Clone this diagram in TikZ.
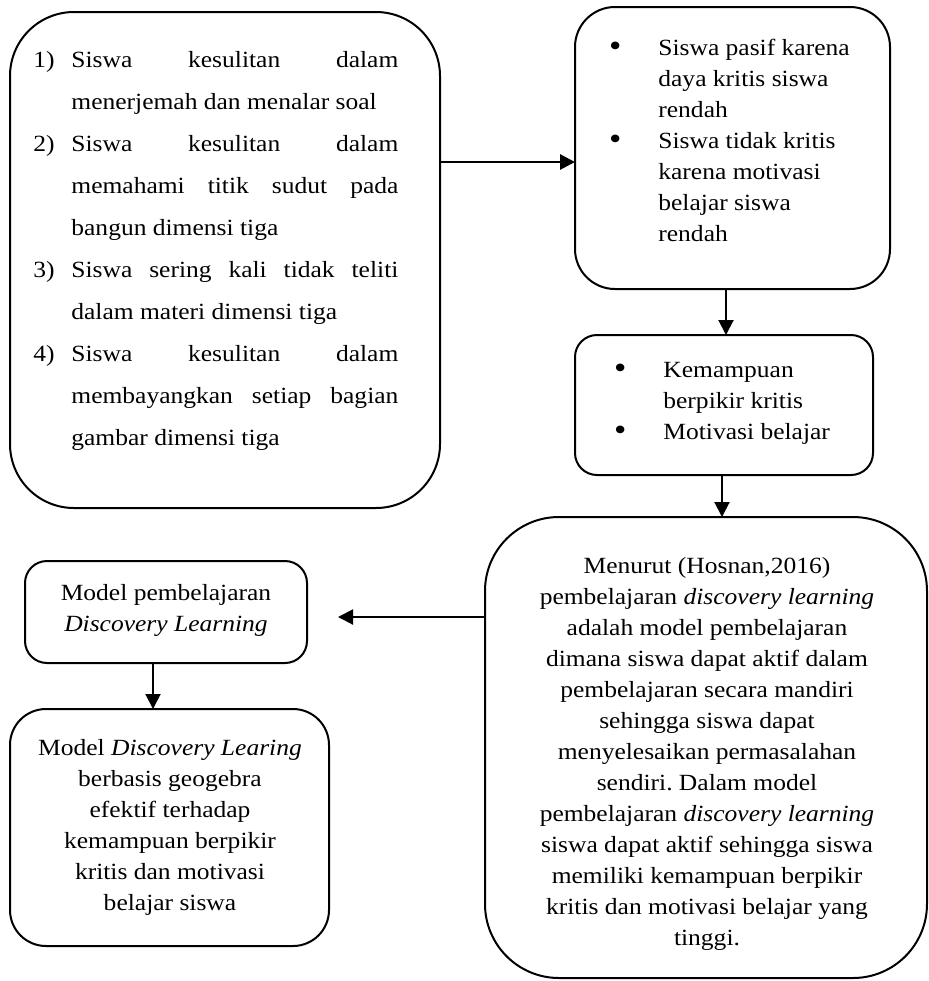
\documentclass[tikz,border=0pt]{standalone}
\usepackage{fontspec}
\setmainfont{Liberation Serif}[FakeStretch=1.1]
\usetikzlibrary{arrows.meta}
\frenchspacing
\newcommand\jline[1]{\hbox to 163.5pt{#1}}
\newcommand\numb[1]{\makebox[19pt][l]{#1}}
\newcommand\bul{\makebox[27pt][l]{\makebox[11pt]{\raisebox{-0.6pt}{\fontsize{16}{16}\selectfont •}}}}
\newcommand\nob{\hspace*{27pt}}
\begin{document}
\begin{tikzpicture}[x=0.5pt,y=-0.5pt,
  box/.style={draw, line width=1pt, inner sep=0pt, outer sep=0pt},
  arr/.style={line width=1pt, -{Triangle[length=7.5pt,width=7.5pt]}},
  txt/.style={inner sep=0pt, anchor=base, font=\fontsize{11.6}{15.5}\selectfont}
]
\useasboundingbox (0,0) rectangle (929,981);
% boxes
\node[box, rounded corners=32pt, minimum width=215pt, minimum height=248pt] (b1) at (225,260) {};
\node[box, rounded corners=20pt, minimum width=157.5pt, minimum height=141pt] (b2) at (732.5,148) {};
\node[box, rounded corners=11pt, minimum width=149pt, minimum height=70pt] (b3) at (724,405) {};
\node[box, rounded corners=37pt, minimum width=221pt, minimum height=230.5pt] (b4) at (706,747.5) {};
\node[box, rounded corners=11pt, minimum width=141pt, minimum height=51pt] (b5) at (166,612) {};
\node[box, rounded corners=18pt, minimum width=159.5pt, minimum height=118.5pt] (b6) at (169.5,827.5) {};
% texts
\node[txt, anchor=base west, font=\fontsize{11.6}{21}\selectfont] (t1) at (33,67) {%
\begin{tabular}[t]{@{}l@{}l@{}}
\numb{1)} & \jline{Siswa\hfill kesulitan\hfill dalam}\\
 & menerjemah dan menalar soal\\
\numb{2)} & \jline{Siswa\hfill kesulitan\hfill dalam}\\
 & \jline{memahami\hfill titik\hfill sudut\hfill pada}\\
 & bangun dimensi tiga\\
\numb{3)} & \jline{Siswa\hfill sering\hfill kali\hfill tidak\hfill teliti}\\
 & dalam materi dimensi tiga\\
\numb{4)} & \jline{Siswa\hfill kesulitan\hfill dalam}\\
 & \jline{membayangkan\hfill setiap\hfill bagian}\\
 & gambar dimensi tiga
\end{tabular}};
\node[txt, anchor=base west] (t2) at (604,55) {%
\begin{tabular}[t]{@{}l@{}}
\bul Siswa pasif karena\\
\nob daya kritis siswa\\
\nob rendah\\
\bul Siswa tidak kritis\\
\nob karena motivasi\\
\nob belajar siswa\\
\nob rendah
\end{tabular}};
\node[txt, anchor=base west] (t3) at (609,377) {%
\begin{tabular}[t]{@{}l@{}}
\bul Kemampuan\\
\nob berpikir kritis\\
\bul Motivasi belajar
\end{tabular}};
\node[txt] (t4) at (707,573) {%
\begin{tabular}[t]{@{}c@{}}
Menurut (Hosnan,2016)\\
pembelajaran \textit{discovery learning}\\
adalah model pembelajaran\\
dimana siswa dapat aktif dalam\\
pembelajaran secara mandiri\\
sehingga siswa dapat\\
menyelesaikan permasalahan\\
sendiri. Dalam model\\
pembelajaran \textit{discovery learning}\\
siswa dapat aktif sehingga siswa\\
memiliki kemampuan berpikir\\
kritis dan motivasi belajar yang\\
tinggi.
\end{tabular}};
\node[txt] (t5) at (166,600) {%
\begin{tabular}[t]{@{}c@{}}
Model pembelajaran\\
\textit{Discovery Learning}
\end{tabular}};
\node[txt] (t6) at (170,755) {%
\begin{tabular}[t]{@{}c@{}}
Model \textit{Discovery Learing}\\
berbasis geogebra\\
efektif terhadap\\
kemampuan berpikir\\
kritis dan motivasi\\
belajar siswa
\end{tabular}};
% connectors
\coordinate (y1) at (0,162);
\coordinate (x23) at (726,0);
\coordinate (x34) at (722,0);
\coordinate (y45) at (0,617);
\coordinate (e45) at (338,617);
\coordinate (x56) at (153,0);
\draw[arr, line width=1.4pt] (b1.east |- y1) -- (b2.west |- y1);
\draw[arr] (b2.south -| x23) -- (b3.north -| x23);
\draw[arr] (b3.south -| x34) -- (b4.north -| x34);
\draw[arr] (b4.west |- y45) -- (e45);
\draw[arr] (b5.south -| x56) -- (b6.north -| x56);
\end{tikzpicture}
\end{document}
